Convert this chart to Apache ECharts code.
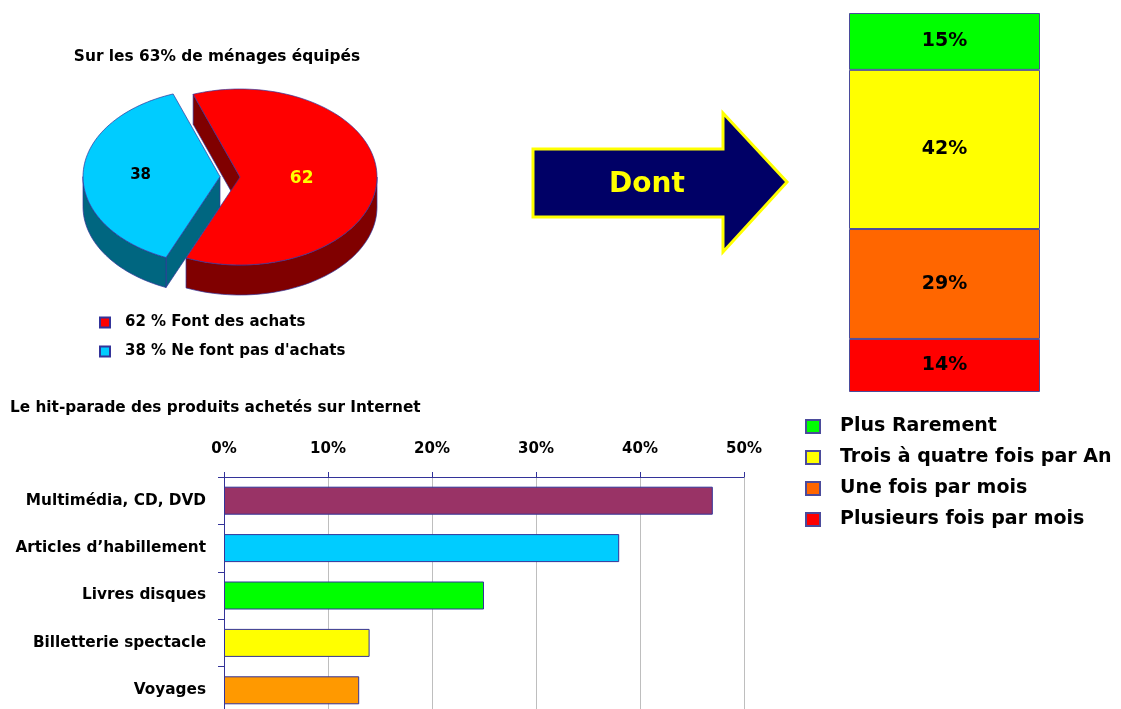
<!DOCTYPE html>
<html><head><meta charset="utf-8">
<script src="https://cdn.jsdelivr.net/npm/echarts@6/dist/echarts.min.js"></script>
<style>html,body{margin:0;padding:0;background:#fff}#c{width:1121px;height:709px}</style>
</head><body><div id="c"></div>
<script>
// ---- data ----
const pieTitle = 'Sur les 63% de ménages équipés';
const pieNames = ['Font des achats', "Ne font pas d'achats"];
const pieValues = [62, 38];

const arrowText = 'Dont';

const freqNames = ['Plusieurs fois par mois', 'Une fois par mois', 'Trois à quatre fois par An', 'Plus Rarement'];
const freqValues = [14, 29, 42, 15];

const barTitle = 'Le hit-parade des produits achetés sur Internet';
const barCategories = ['Multimédia, CD, DVD', 'Articles d’habillement', 'Livres disques', 'Billetterie spectacle', 'Voyages'];
const barValues = [47, 38, 25, 14, 13];
const barTickMin = 0, barTickMax = 50, barTickStep = 10;

// ---- styles ----
const FONT = 'DejaVu Sans';
const NAVY = '#333399';
const pieTopColors = ['#FF0000', '#00CCFF'];
const pieSideColors = ['#800000', '#006680'];
const pieLabelColors = ['#FFFF00', '#000000'];
const pieLabelSizes = [17, 15];
const pieLabelRadius = [0.45, 0.58];
const pieExplode = [0, 20];
const PIE = {cx: 240, cy: 177, rx: 137, ry: 88, depth: 30, start: -110};
const barColors = ['#993366', '#00CCFF', '#00FF00', '#FFFF00', '#FF9900'];
const freqColors = ['#FF0000', '#FF6600', '#FFFF00', '#00FF00'];

const rad = d => d * Math.PI / 180;
const poly = (pts, fill) => ({type: 'polygon', shape: {points: pts}, style: {fill: fill, stroke: NAVY, lineWidth: 0.7}});

function pieRender(k) {
  return function (params, api) {
    const total = pieValues.reduce((a, b) => a + b, 0);
    let start = PIE.start;
    for (let i = 0; i < k; i++) start += pieValues[i] / total * 360;
    const end = start + api.value(0) / total * 360;
    const mid = (start + end) / 2;
    const D = PIE.depth;
    const cx = PIE.cx + pieExplode[k] * Math.cos(rad(mid));
    const cy = PIE.cy + pieExplode[k] * Math.sin(rad(mid)) * PIE.ry / PIE.rx;
    const P = (a, dz, f) => [cx + (f || 1) * PIE.rx * Math.cos(rad(a)), cy + (f || 1) * PIE.ry * Math.sin(rad(a)) + (dz || 0)];
    const arc = (a, b, dz) => {
      const pts = []; const n = Math.max(2, Math.ceil(Math.abs(b - a) / 2));
      for (let i = 0; i <= n; i++) pts.push(P(a + (b - a) * i / n, dz));
      return pts;
    };
    const side = pieSideColors[k];
    const children = [];
    if (Math.cos(rad(start)) < 0) children.push(poly([[cx, cy], P(start), P(start, D), [cx, cy + D]], side));
    if (Math.cos(rad(end)) > 0) children.push(poly([[cx, cy], P(end), P(end, D), [cx, cy + D]], side));
    [-360, 0, 360].forEach(base => {
      const a = Math.max(start, base), b = Math.min(end, base + 180);
      if (b > a) children.push(poly(arc(a, b, 0).concat(arc(b, a, D)), side));
    });
    children.push(poly([[cx, cy]].concat(arc(start, end, 0)), api.visual('color')));
    const lp = P(mid, 0, pieLabelRadius[k]);
    children.push({type: 'text', style: {x: lp[0], y: lp[1], text: String(api.value(0)), fill: pieLabelColors[k],
      font: 'bold ' + pieLabelSizes[k] + 'px "' + FONT + '"', align: 'center', verticalAlign: 'middle'}});
    return {type: 'group', children: children};
  };
}

const bold = (size) => ({fontSize: size, fontWeight: 'bold', color: '#000', fontFamily: FONT});

const pieSeries = pieNames.map((n, k) => ({
  type: 'custom', name: n, coordinateSystem: 'none',
  itemStyle: {color: pieTopColors[k], borderColor: NAVY, borderWidth: 1},
  data: [[pieValues[k]]], renderItem: pieRender(k)
}));

const freqSeries = freqNames.map((n, i) => ({
  type: 'bar', name: n, xAxisIndex: 1, yAxisIndex: 1, stack: 'freq', barWidth: '100%',
  data: [freqValues[i]],
  itemStyle: {color: freqColors[i], borderColor: '#4B4B9B', borderWidth: 1},
  label: Object.assign({show: true, position: 'inside', formatter: '{c}%'}, bold(19))
}));

const chart = echarts.init(document.getElementById('c'), null, {renderer: 'canvas'});
chart.setOption({
  animation: false,
  backgroundColor: '#fff',
  title: [
    {text: pieTitle, left: 217, top: 49, textAlign: 'center', padding: 0, textStyle: bold(15.4)},
    {text: barTitle, left: 10, top: 401, padding: 0, textStyle: bold(15.3)}
  ],
  legend: [
    {data: pieNames, orient: 'vertical', left: 99, top: 315, padding: 0, itemWidth: 10, itemHeight: 10, itemGap: 14,
     icon: 'rect', selectedMode: false,
     formatter: name => pieValues[pieNames.indexOf(name)] + ' % ' + name,
     textStyle: Object.assign({lineHeight: 15, padding: [0, 0, 0, 10]}, bold(15))},
    {data: freqNames.slice().reverse(), orient: 'vertical', left: 805, top: 417, padding: 0, itemWidth: 14, itemHeight: 13, itemGap: 12,
     icon: 'rect', selectedMode: false,
     textStyle: Object.assign({lineHeight: 19, padding: [0, 0, 0, 15]}, bold(19))}
  ],
  grid: [
    {left: 224, top: 477, width: 520, height: 237, outerBoundsMode: 'none'},
    {left: 849, top: 13, width: 191, height: 379, outerBoundsMode: 'none'}
  ],
  xAxis: [
    {gridIndex: 0, type: 'value', position: 'top', min: barTickMin, max: barTickMax, interval: barTickStep,
     axisLine: {show: true, lineStyle: {color: NAVY}},
     axisTick: {show: true, length: 5, lineStyle: {color: NAVY}},
     axisLabel: Object.assign({formatter: '{value}%', margin: 20}, bold(15)),
     splitLine: {show: true, lineStyle: {color: '#BEBEBE'}}},
    {gridIndex: 1, type: 'category', data: [''], show: false}
  ],
  yAxis: [
    {gridIndex: 0, type: 'category', data: barCategories, inverse: true,
     axisLine: {show: true, lineStyle: {color: NAVY}},
     axisTick: {show: true, length: 6, lineStyle: {color: NAVY}},
     axisLabel: Object.assign({margin: 18}, bold(15.3))},
    {gridIndex: 1, type: 'value', min: 0, max: 100, show: false}
  ],
  graphic: [
    {type: 'polygon', shape: {points: [[533, 149], [723, 149], [723, 113], [787, 182], [723, 252], [723, 217], [533, 217]]},
     style: {fill: '#000066', stroke: '#FFFF00', lineWidth: 3}},
    {type: 'text', x: 647, y: 185, style: {text: arrowText, fill: '#FFFF00', font: 'bold 28px "' + FONT + '"', align: 'center', verticalAlign: 'middle'}}
  ],
  series: pieSeries.concat(freqSeries, [{
    type: 'bar', name: 'hit-parade', xAxisIndex: 0, yAxisIndex: 0, barWidth: 28,
    data: barValues.map((v, i) => ({value: v, itemStyle: {color: barColors[i]}})),
    itemStyle: {borderColor: NAVY, borderWidth: 1}
  }])
});
</script></body></html>
